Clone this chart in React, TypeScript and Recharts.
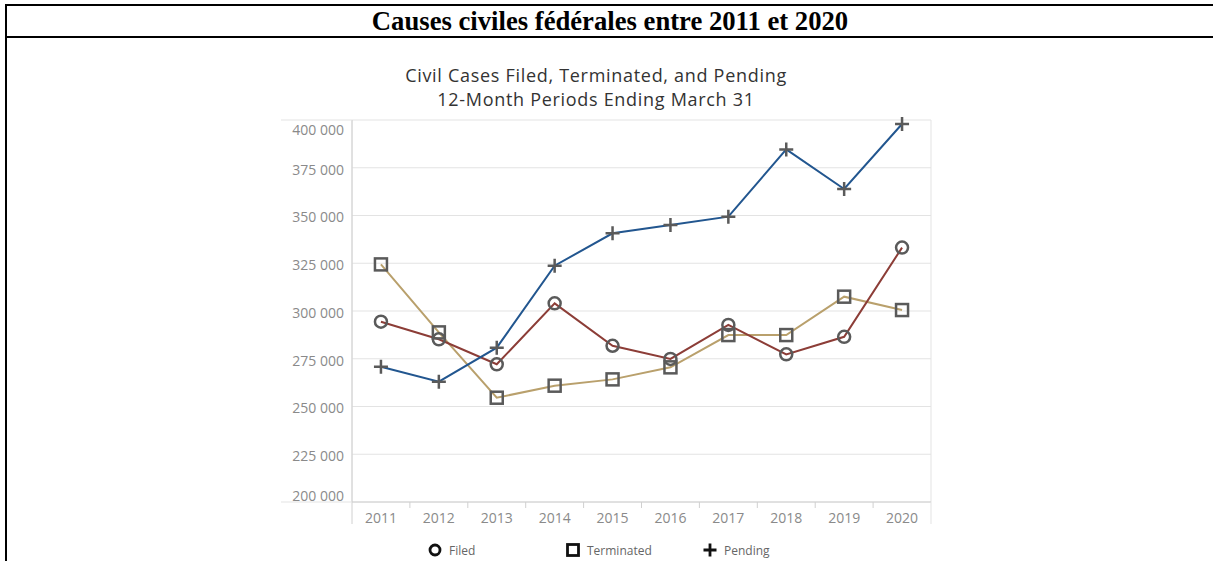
import React from "react";
import { LineChart, Line, XAxis, YAxis, CartesianGrid } from "recharts";

const years = ["2011", "2012", "2013", "2014", "2015", "2016", "2017", "2018", "2019", "2020"];
const filed = [294400, 285200, 272100, 304000, 281800, 274900, 292700, 277300, 286500, 333200];
const terminated = [324400, 288800, 254600, 260900, 264200, 270500, 287400, 287400, 307500, 300500];
const pending = [270800, 263000, 280800, 323700, 340700, 345000, 349400, 384600, 363900, 397900];
const yTicks = [200000, 225000, 250000, 275000, 300000, 325000, 350000, 375000, 400000];

const data = years.map((year, i) => ({
  year,
  filed: filed[i],
  terminated: terminated[i],
  pending: pending[i],
}));

const FONT = "'Open Sans', sans-serif";
const LABEL = "#8a8a8a";
const GRID = "#e3e3e3";
const AXIS = "#d0d0d0";
const MARK = "#5a5a5a";

const fmt = (v: number) => String(v).replace(/\B(?=(\d{3})+(?!\d))/g, " ");

const YTick = (props: any) => {
  const { x, y, payload } = props;
  const v = payload.value;
  const edge = v === 400000 || v === 200000;
  const shift = v === 400000 ? 10 : v === 200000 ? -6 : 2;
  return (
    <g>
      {edge && <line x1={x - 63} x2={x + 8} y1={y} y2={y} stroke={GRID} />}
      <text x={x} y={y + shift} dy="0.35em" textAnchor="end" fill={LABEL} fontSize={14} fontFamily={FONT}>
        {fmt(v)}
      </text>
    </g>
  );
};

const XTick = (props: any) => {
  const { x, y, payload, index, visibleTicksCount } = props;
  const half = payload.offset || 28.95;
  const top = y - 8;
  return (
    <g>
      {index > 0 && <line x1={x - half} x2={x - half} y1={top} y2={top + 6} stroke={AXIS} />}
      {index === 0 && <line x1={x - half} x2={x - half} y1={top} y2={top + 22} stroke={AXIS} />}
      {index === visibleTicksCount - 1 && (
        <line x1={x + half} x2={x + half} y1={top} y2={top + 22} stroke={GRID} />
      )}
      <text x={x} y={y + 3} dy="0.71em" textAnchor="middle" fill={LABEL} fontSize={14} fontFamily={FONT}>
        {payload.value}
      </text>
    </g>
  );
};

const CircleDot = (p: any) => (
  <circle key={p.index} cx={p.cx} cy={p.cy} r={6} fill="none" stroke={MARK} strokeWidth={2.5} />
);
const SquareDot = (p: any) => (
  <rect key={p.index} x={p.cx - 6} y={p.cy - 6} width={12} height={12} fill="none" stroke={MARK} strokeWidth={2.5} />
);
const PlusDot = (p: any) => (
  <path key={p.index} d={`M${p.cx - 7},${p.cy}H${p.cx + 7}M${p.cx},${p.cy - 7}V${p.cy + 7}`} stroke={MARK} strokeWidth={2.5} />
);

const legendItems = [
  { name: "Filed", left: 428, shape: <circle cx={7} cy={7} r={5} fill="none" stroke="#111" strokeWidth={2.8} /> },
  { name: "Terminated", left: 566, shape: <rect x={1.5} y={1.5} width={11} height={11} fill="none" stroke="#111" strokeWidth={2.8} /> },
  { name: "Pending", left: 703, shape: <path d="M0.5,7H13.5M7,0.5V13.5" stroke="#111" strokeWidth={2.8} /> },
];

const titleLine = {
  position: "absolute" as const,
  left: 346,
  width: 500,
  textAlign: "center" as const,
  fontFamily: FONT,
  fontSize: 18,
  letterSpacing: 0.7,
  lineHeight: "24px",
  color: "#333",
  whiteSpace: "nowrap" as const,
};

export default function App() {
  return (
    <div style={{ position: "absolute", left: 0, top: 0, width: 1213, height: 561, background: "#fff", overflow: "hidden" }}>
      <div style={{ position: "absolute", left: 5, top: 4, width: 1300, height: 2, background: "#000" }} />
      <div style={{ position: "absolute", left: 5, top: 4, width: 2, height: 600, background: "#000" }} />
      <div style={{ position: "absolute", left: 5, top: 36, width: 1300, height: 2, background: "#000" }} />
      <div
        style={{
          position: "absolute",
          left: 7,
          top: 6,
          width: 1206,
          height: 30,
          lineHeight: "30px",
          textAlign: "center",
          fontFamily: "'Liberation Serif', 'Times New Roman', serif",
          fontWeight: "bold",
          fontSize: 26.67,
          color: "#000",
        }}
      >
        Causes civiles fédérales entre 2011 et 2020
      </div>

      <div style={{ ...titleLine, top: 63 }}>Civil Cases Filed, Terminated, and Pending</div>
      <div style={{ ...titleLine, top: 87 }}>12-Month Periods Ending March 31</div>

      <div style={{ position: "absolute", left: 0, top: 0 }}>
        <LineChart width={1213} height={561} data={data} margin={{ top: 120, right: 282, bottom: 37, left: 0 }}>
          <CartesianGrid
            stroke={GRID}
            verticalCoordinatesGenerator={({ offset }: any) => [offset.left, offset.left + offset.width]}
          />
          <XAxis
            dataKey="year"
            scale="band"
            height={22}
            tickLine={false}
            axisLine={{ stroke: AXIS }}
            tick={<XTick />}
            interval={0}
          />
          <YAxis
            width={352}
            domain={[200000, 400000]}
            ticks={yTicks}
            tickLine={false}
            axisLine={{ stroke: AXIS }}
            tick={<YTick />}
            interval={0}
          />
          <Line dataKey="terminated" stroke="#b9a06c" strokeWidth={2} dot={SquareDot} isAnimationActive={false} />
          <Line dataKey="filed" stroke="#8c3d37" strokeWidth={2} dot={CircleDot} isAnimationActive={false} />
          <Line dataKey="pending" stroke="#22568f" strokeWidth={2} dot={PlusDot} isAnimationActive={false} />
        </LineChart>
      </div>

      {legendItems.map((it) => (
        <div
          key={it.name}
          style={{ position: "absolute", left: it.left, top: 542, display: "flex", alignItems: "center", height: 16 }}
        >
          <svg width={14} height={14} style={{ display: "block" }}>
            {it.shape}
          </svg>
          <span style={{ marginLeft: 7, fontFamily: FONT, fontSize: 12, color: "#666" }}>{it.name}</span>
        </div>
      ))}
    </div>
  );
}
